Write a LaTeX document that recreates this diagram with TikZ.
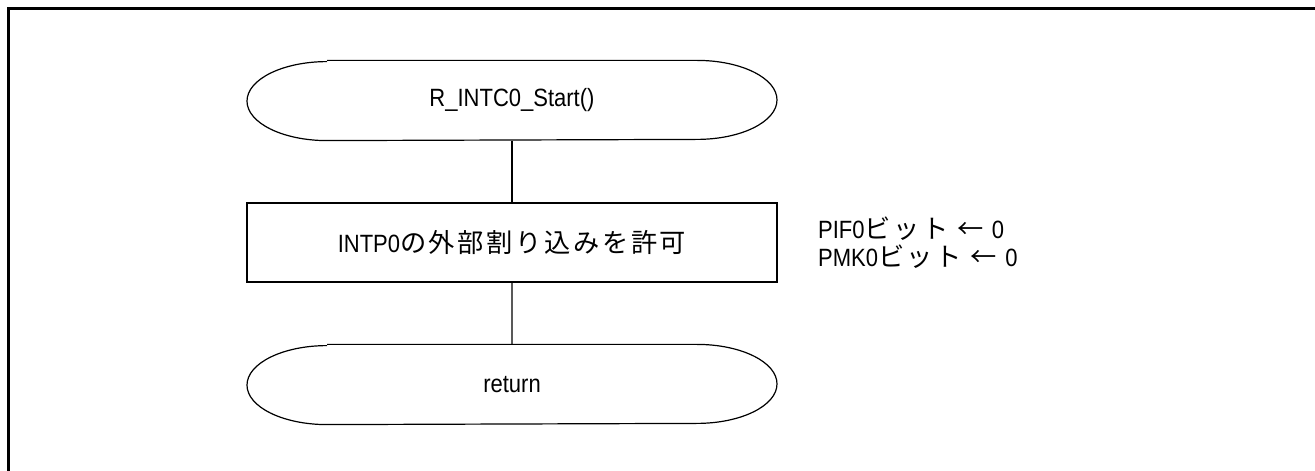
\documentclass[tikz,border=0pt]{standalone}
\usepackage{fontspec}
\setmainfont{Liberation Sans}[FakeStretch=0.88]
\newfontfamily\jp{Noto Sans CJK JP}[Scale=1.05,LetterSpace=10]
\usetikzlibrary{positioning}

\begin{document}
\begin{tikzpicture}[x=1pt,y=1pt,level distance=142pt,line width=1.2pt]
        \tikzstyle{every node}=[font=\fontsize{25}{28}\selectfont]
        \tikzstyle{terminal}=[minimum width=530pt,minimum height=79pt,inner sep=0pt]
        \tikzstyle{process}=[draw,minimum width=530pt,minimum height=79pt,inner sep=0pt]
        \tikzstyle{note}=[align=left,inner sep=0pt]
        \useasboundingbox (0,0) rectangle (1315,471);
        \draw[line width=3pt] (8,0) |- (1315,462);
        \node[terminal] (start) at (512,370.5) {R\_INTC0\_Start()}
            child {node[process] (proc) {INTP0{\jp の外部割り込みを許可}}
                child {node[terminal] (ret) {return}}};
        \node[note,right=40pt of proc] (bits) {PIF0{\jp ビット ← }0\\PMK0{\jp ビット ← }0};
        \foreach \n in {start,ret}
            \draw ([xshift=-185pt]\n.north) -- ([xshift=185pt]\n.north)
                arc[start angle=90,end angle=-90,x radius=80pt,y radius=39.5pt]
                -- ([xshift=-185pt]\n.south)
                arc[start angle=270,end angle=90,x radius=80pt,y radius=39.5pt];
    \end{tikzpicture}
\end{document}
